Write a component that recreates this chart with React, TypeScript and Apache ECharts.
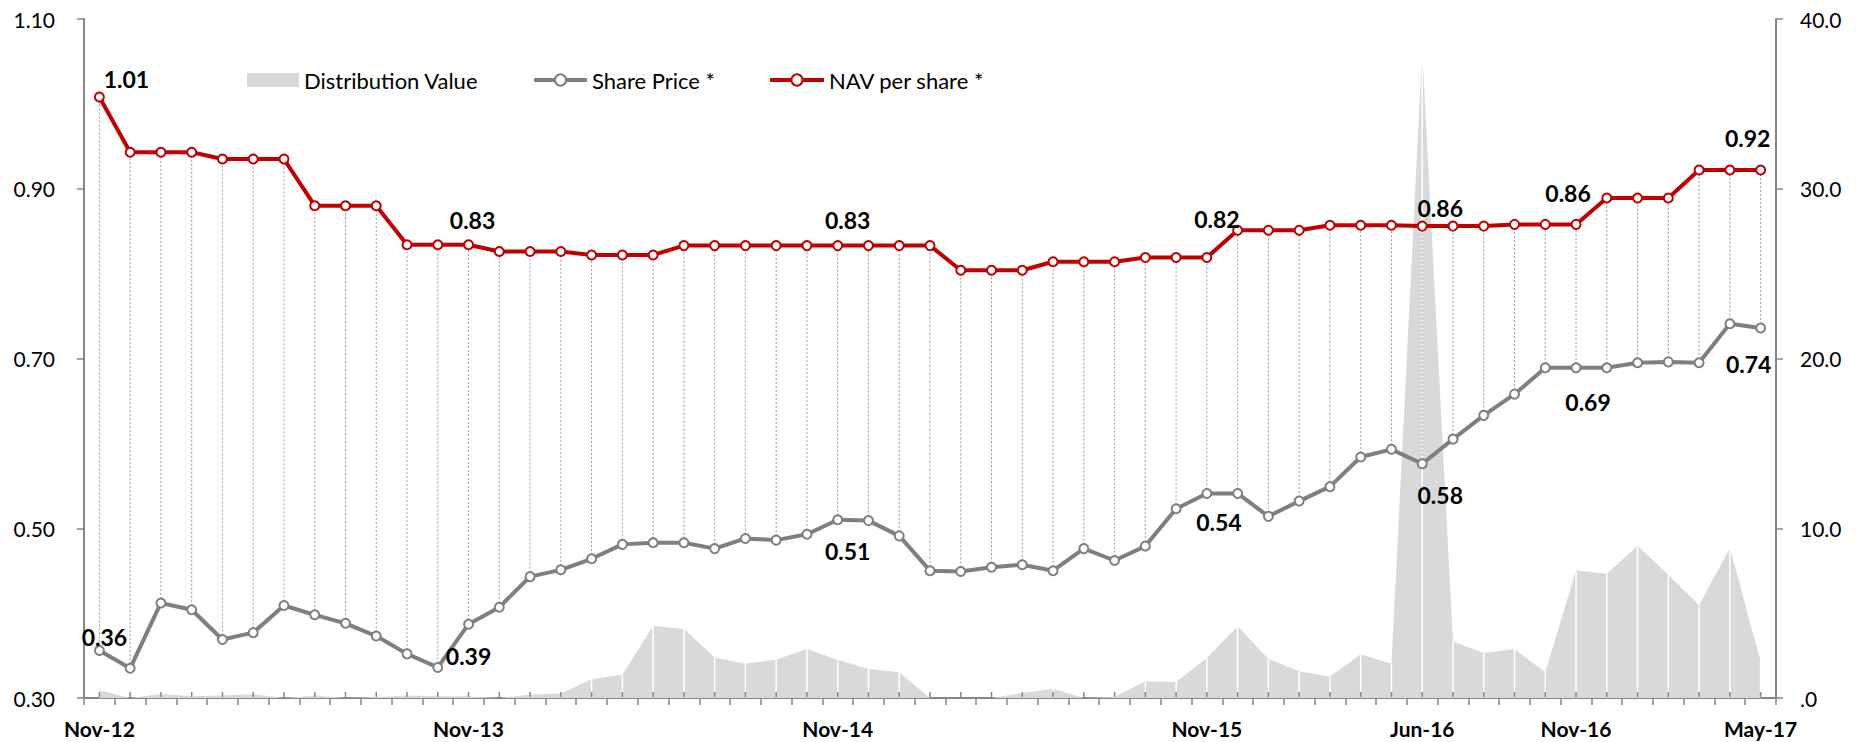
import React, { useEffect, useRef } from "react";
import * as echarts from "echarts";

const categories: string[] = [
  "Nov-12", "Dec-12", "Jan-13", "Feb-13", "Mar-13", "Apr-13", "May-13", "Jun-13", "Jul-13", "Aug-13", "Sep-13", "Oct-13",
  "Nov-13", "Dec-13", "Jan-14", "Feb-14", "Mar-14", "Apr-14", "May-14", "Jun-14", "Jul-14", "Aug-14", "Sep-14", "Oct-14",
  "Nov-14", "Dec-14", "Jan-15", "Feb-15", "Mar-15", "Apr-15", "May-15", "Jun-15", "Jul-15", "Aug-15", "Sep-15", "Oct-15",
  "Nov-15", "Dec-15", "Jan-16", "Feb-16", "Mar-16", "Apr-16", "May-16", "Jun-16", "Jul-16", "Aug-16", "Sep-16", "Oct-16",
  "Nov-16", "Dec-16", "Jan-17", "Feb-17", "Mar-17", "Apr-17", "May-17",
];

const shownLabels: number[] = [0, 12, 24, 36, 43, 48, 54];

const navPerShare: number[] = [
  1.008, 0.943, 0.943, 0.943, 0.935, 0.935, 0.935, 0.88, 0.88, 0.88,
  0.834, 0.834, 0.834, 0.826, 0.826, 0.826, 0.822, 0.822, 0.822, 0.833,
  0.833, 0.833, 0.833, 0.833, 0.833, 0.833, 0.833, 0.833, 0.804, 0.804,
  0.804, 0.814, 0.814, 0.814, 0.819, 0.819, 0.819, 0.851, 0.851, 0.851,
  0.857, 0.857, 0.857, 0.856, 0.856, 0.856, 0.858, 0.858, 0.858, 0.889,
  0.889, 0.889, 0.922, 0.922, 0.922,
];

const sharePrice: number[] = [
  0.356, 0.335, 0.412, 0.404, 0.369, 0.377, 0.409, 0.398, 0.388, 0.373,
  0.352, 0.336, 0.387, 0.407, 0.443, 0.451, 0.464, 0.481, 0.483, 0.483,
  0.476, 0.488, 0.486, 0.493, 0.51, 0.509, 0.491, 0.45, 0.449, 0.454,
  0.457, 0.45, 0.476, 0.462, 0.479, 0.523, 0.541, 0.541, 0.514, 0.532,
  0.549, 0.584, 0.593, 0.576, 0.605, 0.633, 0.658, 0.689, 0.689, 0.689,
  0.695, 0.696, 0.695, 0.741, 0.736,
];

const distributionValue: number[] = [
  0.45, 0, 0.24, 0.1, 0.14, 0.22, 0, 0.14, 0, 0.06,
  0.14, 0.1, 0.1, 0, 0.2, 0.27, 1.1, 1.37, 4.26, 4.06,
  2.39, 2.02, 2.26, 2.9, 2.24, 1.71, 1.51, 0, 0, 0,
  0.29, 0.55, 0, 0.06, 0.98, 0.94, 2.35, 4.22, 2.3, 1.57,
  1.27, 2.57, 2.02, 38.2, 3.33, 2.65, 2.89, 1.51, 7.52, 7.32,
  8.97, 7.26, 5.46, 8.83, 2.16,
];

const leftTicks: number[] = [0.3, 0.5, 0.7, 0.9, 1.1];

// label placement (style config)
const navLabelOffset: Record<number, [number, number]> = {
  0: [27, -18], 12: [4, -25], 24: [10, -26], 36: [10, -38], 43: [18, -18], 48: [-8, -31], 54: [-13, -32],
};
const shareLabelOffset: Record<number, [number, number]> = {
  0: [5, -13], 12: [0, 32], 24: [10, 31], 36: [12, 29], 43: [18, 31], 48: [12, 34], 54: [-12, 36],
};

const FONT = "Lato, 'Noto Sans', sans-serif";
const AXIS_GREY = "#868686";

function withLabels(values: number[], offsets: Record<number, [number, number]>) {
  return values.map((v, i) => {
    const off = offsets[i];
    if (!off) return v;
    return {
      value: v,
      label: {
        show: true,
        position: "inside",
        offset: off,
        formatter: () => v.toFixed(2),
        fontFamily: FONT,
        fontWeight: "bold",
        fontSize: 23,
        color: "#000",
      },
    };
  });
}

export default function App() {
  const ref = useRef<HTMLDivElement>(null);

  useEffect(() => {
    if (!ref.current) return;
    const chart = echarts.init(ref.current, undefined, { renderer: "svg" });

    const legendText = { fontFamily: FONT, fontSize: 22, color: "#000" };

    const option: any = {
      animation: false,
      backgroundColor: "#fff",
      textStyle: { fontFamily: FONT },
      grid: { left: 84, right: 82, top: 19, bottom: 44, containLabel: false },
      legend: [
        {
          data: [{ name: "Distribution Value", icon: "rect" }],
          left: 247, top: 69, padding: 0,
          itemWidth: 52, itemHeight: 14,
          textStyle: legendText,
        },
        {
          data: ["Share Price *"], left: 532, top: 69, padding: 0,
          itemWidth: 53, itemHeight: 14,
          lineStyle: { width: 4 },
          textStyle: legendText,
        },
        {
          data: ["NAV per share *"], left: 768, top: 69, padding: 0,
          itemWidth: 54, itemHeight: 14,
          lineStyle: { width: 4 },
          textStyle: legendText,
        },
      ],
      xAxis: {
        type: "category",
        data: categories,
        boundaryGap: true,
        axisLine: { lineStyle: { color: AXIS_GREY, width: 2 } },
        axisTick: { show: true, interval: 0, length: 7, lineStyle: { color: AXIS_GREY, width: 1.5 } },
        axisLabel: {
          interval: (idx: number) => shownLabels.includes(idx),
          margin: 20,
          fontFamily: FONT,
          fontWeight: "bold",
          fontSize: 21,
          color: "#000",
        },
        splitLine: { show: false },
      },
      yAxis: [
        {
          type: "value",
          min: 0.3,
          max: 1.1,
          position: "left",
          axisLine: { show: true, lineStyle: { color: AXIS_GREY, width: 2 } },
          axisTick: { show: true, length: 7, customValues: leftTicks, lineStyle: { color: AXIS_GREY, width: 1.5 } },
          axisLabel: {
            customValues: leftTicks,
            formatter: (v: number) => v.toFixed(2),
            margin: 29,
            fontFamily: FONT,
            fontSize: 21,
            color: "#000",
          },
          splitLine: { show: false },
        },
        {
          type: "value",
          min: 0,
          max: 40,
          interval: 10,
          position: "right",
          axisLine: { show: true, lineStyle: { color: AXIS_GREY, width: 2 } },
          axisTick: { show: true, length: 7, lineStyle: { color: AXIS_GREY, width: 1.5 } },
          axisLabel: {
            formatter: (v: number) => (v === 0 ? ".0" : v.toFixed(1)),
            margin: 24,
            fontFamily: FONT,
            fontSize: 21,
            color: "#000",
          },
          splitLine: { show: false },
        },
      ],
      series: [
        {
          name: "Distribution Value",
          type: "line",
          yAxisIndex: 1,
          data: distributionValue,
          symbol: "none",
          lineStyle: { width: 0 },
          itemStyle: { color: "#d9d9d9" },
          areaStyle: { color: "#d9d9d9", opacity: 1 },
          z: 1,
        },
        {
          name: "areaLines",
          type: "custom",
          yAxisIndex: 1,
          silent: true,
          z: 2,
          encode: { x: 0, y: 1 },
          data: distributionValue.map((v, i) => [i, v]),
          renderItem: (params: any, api: any) => {
            const i = api.value(0);
            const v = api.value(1);
            const p0 = api.coord([i, 0]);
            const p1 = api.coord([i, v]);
            const children: any[] = [
              {
                type: "line",
                shape: { x1: p0[0], y1: p0[1] - 1, x2: p0[0], y2: p0[1] - 6 },
                style: { stroke: AXIS_GREY, lineWidth: 1.5 },
              },
            ];
            if (p0[1] - p1[1] > 6) {
              children.push({
                type: "line",
                shape: { x1: p0[0], y1: p0[1] - 6, x2: p1[0], y2: p1[1] },
                style: { stroke: "#ffffff", lineWidth: 1.5 },
              });
            }
            return { type: "group", children };
          },
        },
        {
          name: "highLow",
          type: "custom",
          yAxisIndex: 0,
          silent: true,
          z: 3,
          encode: { x: 0, y: [1, 2] },
          data: sharePrice.map((v, i) => [i, v, navPerShare[i]]),
          renderItem: (params: any, api: any) => {
            const i = api.value(0);
            const a = api.coord([i, api.value(1)]);
            const b = api.coord([i, api.value(2)]);
            return {
              type: "line",
              shape: { x1: a[0], y1: a[1], x2: b[0], y2: b[1] },
              style: { stroke: "#9a9a9a", lineWidth: 1, lineDash: [2, 2] },
            };
          },
        },
        {
          name: "Share Price *",
          type: "line",
          yAxisIndex: 0,
          data: withLabels(sharePrice, shareLabelOffset),
          symbol: "emptyCircle",
          symbolSize: 9,
          showAllSymbol: true,
          lineStyle: { color: "#7f7f7f", width: 4 },
          itemStyle: { color: "#7f7f7f", borderColor: "#7f7f7f", borderWidth: 1.5 },
          label: { show: false },
          z: 4,
        },
        {
          name: "NAV per share *",
          type: "line",
          yAxisIndex: 0,
          data: withLabels(navPerShare, navLabelOffset),
          symbol: "emptyCircle",
          symbolSize: 9,
          showAllSymbol: true,
          lineStyle: { color: "#c00000", width: 4 },
          itemStyle: { color: "#c00000", borderColor: "#c00000", borderWidth: 1.5 },
          label: { show: false },
          z: 5,
        },
      ],
    };

    chart.setOption(option);
    return () => {
      chart.dispose();
    };
  }, []);

  return (
    <div
      ref={ref}
      style={{ position: "absolute", left: 0, top: 0, width: 1858, height: 742 }}
    />
  );
}
